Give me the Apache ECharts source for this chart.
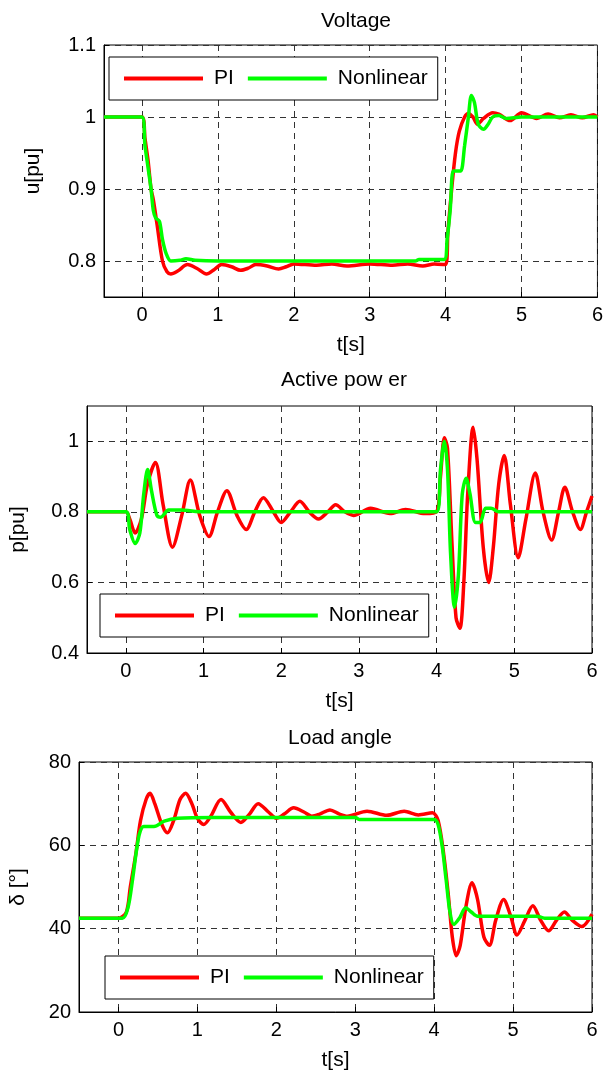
<!DOCTYPE html>
<html>
<head>
<meta charset="utf-8">
<title>Voltage / Active power / Load angle</title>
<script src="https://cdn.jsdelivr.net/npm/echarts@6/dist/echarts.min.js"></script>
<style>
  html, body { margin: 0; padding: 0; background: #fff; }
  #main { width: 606px; height: 1077px; }
</style>
</head>
<body>
<div id="main"></div>
<script>
// ---- data ----
const xTicks = [0, 1, 2, 3, 4, 5, 6];
const voltTicks = [0.8, 0.9, 1, 1.1];
const powerTicks = [0.4, 0.6, 0.8, 1];

// voltage, PI
const voltPiT = [-0.5, 0, 0.04, 0.08, 0.12, 0.15, 0.2, 0.27, 0.33, 0.38, 0.47, 0.6, 0.72, 0.85, 0.95, 1.05, 1.18, 1.3, 1.4, 1.5, 1.65, 1.8, 1.9, 2.0, 2.3, 2.5, 2.7, 3.0, 3.3, 3.5, 3.7, 3.85, 4.0, 4.03, 4.08, 4.13, 4.18, 4.25, 4.3, 4.36, 4.42, 4.5, 4.62, 4.7, 4.85, 5.0, 5.2, 5.35, 5.5, 5.65, 5.8, 5.95, 6.0];
const voltPi  = [1, 1, 0.97, 0.94, 0.9, 0.885, 0.85, 0.8, 0.785, 0.782, 0.786, 0.795, 0.79, 0.782, 0.788, 0.795, 0.792, 0.787, 0.79, 0.795, 0.793, 0.789, 0.792, 0.796, 0.794, 0.796, 0.793, 0.796, 0.794, 0.796, 0.793, 0.796, 0.795, 0.84, 0.9, 0.95, 0.98, 1.0, 1.005, 1.0, 0.99, 0.998, 1.006, 1.004, 0.995, 1.006, 0.998, 1.004, 0.999, 1.003, 0.999, 1.003, 1.0];

// voltage, nonlinear
const voltNlT = [-0.5, 0, 0.04, 0.08, 0.12, 0.15, 0.18, 0.23, 0.27, 0.32, 0.38, 0.5, 0.58, 0.7, 1.0, 2.0, 3.0, 3.6, 3.65, 3.98, 4.02, 4.06, 4.1, 4.15, 4.2, 4.25, 4.3, 4.34, 4.38, 4.43, 4.5, 4.56, 4.62, 4.7, 4.8, 5.0, 6.0];
const voltNl  = [1, 1, 0.96, 0.93, 0.9, 0.87, 0.86, 0.855, 0.83, 0.81, 0.8, 0.801, 0.803, 0.801, 0.8, 0.8, 0.8, 0.8, 0.802, 0.802, 0.83, 0.87, 0.925, 0.925, 0.925, 0.96, 1.0, 1.03, 1.02, 0.99, 0.983, 0.99, 1.0, 1.002, 0.998, 1.0, 1.0];

// active power, PI
const powPiT = [-0.5, 0, 0.05, 0.12, 0.2, 0.28, 0.38, 0.48, 0.6, 0.72, 0.83, 0.95, 1.07, 1.18, 1.3, 1.43, 1.55, 1.66, 1.77, 1.9, 2.0, 2.12, 2.24, 2.36, 2.48, 2.6, 2.7, 2.82, 2.93, 3.15, 3.4, 3.6, 3.85, 4.0, 4.05, 4.1, 4.14, 4.2, 4.25, 4.3, 4.35, 4.4, 4.47, 4.52, 4.6, 4.67, 4.73, 4.8, 4.87, 4.95, 5.05, 5.15, 5.27, 5.37, 5.48, 5.57, 5.65, 5.75, 5.85, 5.93, 6.0];
const powPi  = [0.8, 0.8, 0.78, 0.74, 0.78, 0.88, 0.94, 0.82, 0.7, 0.79, 0.89, 0.79, 0.73, 0.8, 0.86, 0.79, 0.75, 0.8, 0.84, 0.8, 0.77, 0.8, 0.83, 0.8, 0.78, 0.8, 0.82, 0.8, 0.79, 0.81, 0.795, 0.807, 0.795, 0.8, 0.9, 1.01, 0.98, 0.7, 0.5, 0.47, 0.6, 0.85, 1.04, 0.95, 0.7, 0.6, 0.7, 0.88, 0.96, 0.82, 0.67, 0.78, 0.91, 0.8, 0.72, 0.8, 0.87, 0.8, 0.75, 0.8, 0.845];

// active power, nonlinear
const powNlT = [-0.5, 0, 0.05, 0.12, 0.18, 0.23, 0.28, 0.33, 0.4, 0.45, 0.55, 0.7, 1.0, 4.0, 4.05, 4.1, 4.14, 4.18, 4.23, 4.28, 4.33, 4.38, 4.43, 4.5, 4.56, 4.63, 4.7, 4.8, 6.0];
const powNl  = [0.8, 0.8, 0.75, 0.71, 0.74, 0.85, 0.92, 0.86, 0.79, 0.785, 0.805, 0.805, 0.8, 0.8, 0.92, 1.0, 0.92, 0.68, 0.53, 0.62, 0.85, 0.895, 0.85, 0.77, 0.77, 0.81, 0.81, 0.8, 0.8];

// load angle, PI
const angPiT = [-0.5, 0, 0.1, 0.15, 0.22, 0.28, 0.35, 0.4, 0.46, 0.55, 0.62, 0.7, 0.78, 0.85, 0.93, 1.0, 1.08, 1.17, 1.3, 1.42, 1.55, 1.66, 1.77, 1.9, 2.0, 2.1, 2.22, 2.35, 2.45, 2.55, 2.68, 2.8, 2.9, 3.15, 3.4, 3.62, 3.8, 3.98, 4.05, 4.12, 4.18, 4.23, 4.28, 4.33, 4.4, 4.48, 4.55, 4.63, 4.7, 4.78, 4.88, 4.97, 5.05, 5.15, 5.25, 5.35, 5.45, 5.55, 5.65, 5.75, 5.87, 6.0];
const angPi  = [42.5, 42.5, 44, 50, 58, 66, 71, 72.5, 70, 65, 63, 66, 71, 72.5, 70, 66.5, 65, 67, 71, 68, 65.5, 67.5, 70, 68, 66.5, 67.5, 69, 68, 67, 67.5, 68.5, 67.5, 67, 68.2, 67.2, 68.2, 67.3, 67.8, 66, 58, 48, 38, 33.5, 36, 45, 51, 47, 38, 36, 42, 47, 43, 38.5, 42, 45.5, 42, 39.5, 42, 44, 42, 40.5, 43.5];

// load angle, nonlinear
const angNlT = [-0.5, 0.05, 0.12, 0.18, 0.23, 0.27, 0.32, 0.45, 0.58, 0.75, 1.2, 3.0, 3.05, 4.0, 4.05, 4.1, 4.15, 4.2, 4.25, 4.32, 4.4, 4.47, 4.55, 5.3, 5.4, 6.0];
const angNl  = [42.5, 42.5, 45, 52, 59, 63, 64.5, 64.5, 65.8, 66.5, 66.7, 66.7, 66.2, 66.2, 65, 60, 52, 44, 41, 42.5, 45, 44, 43, 43, 42.5, 42.5];

const pairs = (t, v) => t.map((x, i) => [x, v[i]]);

const FONT = 'Liberation Sans, Arial, sans-serif';
const RED = '#ff0000';
const GREEN = '#00ff00';

const grids = [
  { left: 104, top: 45, width: 494, height: 252 },
  { left: 86, top: 406, width: 506, height: 247 },
  { left: 79, top: 762, width: 513, height: 250 }
];
grids.forEach(g => { g.show = true; g.borderColor = '#000'; g.borderWidth = 1; g.backgroundColor = '#fff'; });

const split = { show: true, lineStyle: { color: '#333', type: [6, 5], width: 1 } };
const axLine = { show: true, onZero: false, lineStyle: { color: '#000', width: 1 } };
const lbl = { color: '#000', fontSize: 20, fontFamily: FONT, margin: 8 };
const nameStyle = { color: '#000', fontSize: 21, fontFamily: FONT };

function xAxisFor(i) {
  return {
    type: 'value', gridIndex: i, min: -0.5, max: 6,
    axisLine: axLine,
    axisTick: { show: true, inside: true, length: 5, lineStyle: { color: '#000' }, customValues: xTicks },
    axisLabel: Object.assign({ customValues: xTicks }, lbl),
    splitLine: split,
    name: 't[s]', nameLocation: 'middle', nameGap: 38, nameTextStyle: nameStyle
  };
}

const fmt = v => String(+v.toFixed(2));

const yAxes = [
  {
    type: 'value', gridIndex: 0, min: 0.75, max: 1.1,
    axisTick: { show: true, inside: true, length: 5, lineStyle: { color: '#000' }, customValues: voltTicks },
    axisLabel: Object.assign({ customValues: voltTicks, formatter: fmt }, lbl),
    name: 'u[pu]', nameGap: 60
  },
  {
    type: 'value', gridIndex: 1, min: 0.4, max: 1.1,
    axisTick: { show: true, inside: true, length: 5, lineStyle: { color: '#000' }, customValues: powerTicks },
    axisLabel: Object.assign({ customValues: powerTicks, formatter: fmt }, lbl),
    name: 'p[pu]', nameGap: 58
  },
  {
    type: 'value', gridIndex: 2, min: 20, max: 80, interval: 20,
    axisTick: { show: true, inside: true, length: 5, lineStyle: { color: '#000' } },
    axisLabel: lbl,
    name: 'δ [°]', nameGap: 50
  }
].map(a => Object.assign(a, {
  axisLine: axLine, splitLine: split,
  nameLocation: 'middle', nameTextStyle: nameStyle
}));

function lineSeries(name, i, data, color) {
  return {
    name: name, type: 'line', xAxisIndex: i, yAxisIndex: i,
    data: data, symbol: 'none', smooth: 0.3, animation: false,
    lineStyle: { color: color, width: 3.5 }, itemStyle: { color: color }
  };
}

const legendBase = {
  data: ['PI', 'Nonlinear'], orient: 'horizontal', icon: 'rect',
  itemWidth: 79, itemHeight: 4, itemGap: 14,
  padding: [11, 10, 11, 15],
  borderColor: '#000', borderWidth: 1, backgroundColor: '#fff',
  textStyle: { color: '#000', fontSize: 21, fontFamily: FONT, padding: [0, 0, 0, 6] }
};

const chart = echarts.init(document.getElementById('main'), null, { renderer: 'canvas' });
chart.setOption({
  backgroundColor: '#fff',
  animation: false,
  title: [
    { text: 'Voltage', left: 351, top: 6 },
    { text: 'Active pow er', left: 339, top: 365 },
    { text: 'Load angle', left: 335, top: 723 }
  ].map(t => Object.assign(t, { textAlign: 'center', textStyle: { color: '#000', fontSize: 21, fontWeight: 'normal', fontFamily: FONT } })),
  legend: [
    Object.assign({ left: 109, top: 57 }, legendBase),
    Object.assign({ left: 100, top: 594 }, legendBase),
    Object.assign({ left: 105, top: 956 }, legendBase)
  ],
  grid: grids,
  xAxis: [xAxisFor(0), xAxisFor(1), xAxisFor(2)],
  yAxis: yAxes,
  series: [
    lineSeries('PI', 0, pairs(voltPiT, voltPi), RED),
    lineSeries('Nonlinear', 0, pairs(voltNlT, voltNl), GREEN),
    lineSeries('PI', 1, pairs(powPiT, powPi), RED),
    lineSeries('Nonlinear', 1, pairs(powNlT, powNl), GREEN),
    lineSeries('PI', 2, pairs(angPiT, angPi), RED),
    lineSeries('Nonlinear', 2, pairs(angNlT, angNl), GREEN)
  ]
});
</script>
</body>
</html>
